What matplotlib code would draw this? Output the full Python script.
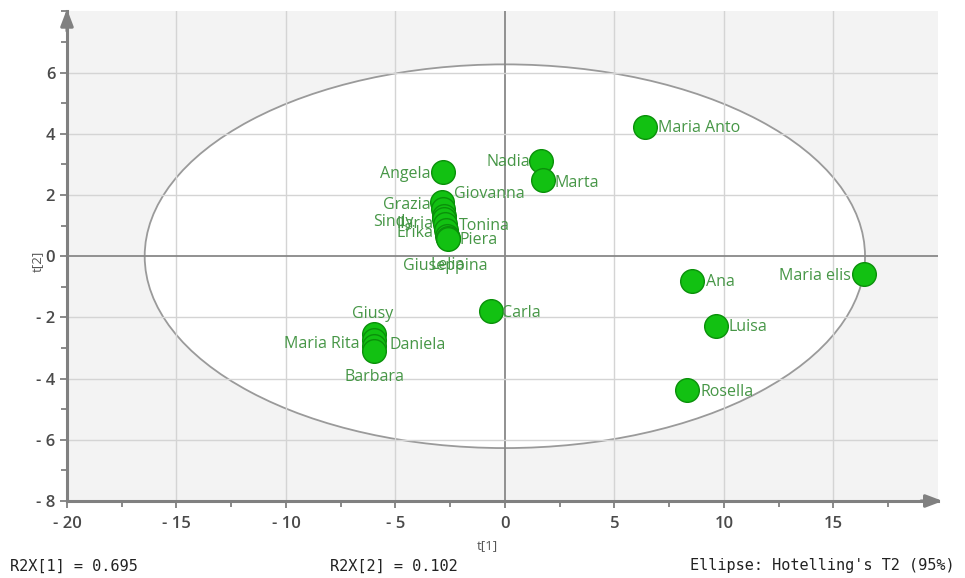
import matplotlib
matplotlib.use("Agg")
import matplotlib.pyplot as plt
from matplotlib.patches import Ellipse
from matplotlib.ticker import MultipleLocator, FuncFormatter

# Score values (t[1], t[2]) for each observation
names = ["Maria Anto", "Nadia", "Marta", "Angela",
         "Grazia", "Giovanna", "Sindy", "Ilaria", "Tonina", "Erika", "Piera", "Lelia", "Giuseppina",
         "Carla", "Giusy", "Maria Rita", "Daniela", "Barbara",
         "Ana", "Maria elis", "Luisa", "Rosella"]
t1 = [6.39, 1.64, 1.74, -2.83,
      -2.85, -2.82, -2.80, -2.77, -2.74, -2.70, -2.62, -2.60, -2.58,
      -0.64, -5.98, -5.98, -5.97, -5.96,
      8.54, 16.39, 9.63, 8.31]
t2 = [4.22, 3.10, 2.48, 2.75,
      1.76, 1.55, 1.32, 1.22, 1.05, 0.85, 0.65, 0.60, 0.56,
      -1.80, -2.55, -2.75, -2.94, -3.10,
      -0.82, -0.59, -2.29, -4.38]

r2x = [0.695, 0.102]
ellipse_axes = (16.45, 6.27)   # Hotelling's T2 (95%) semi-axes

# label placement: (horizontal alignment, dx, dy) in pixels from the marker centre
label_pos = {
    "Maria Anto": ("left", 13, -1), "Nadia": ("right", -11, -1), "Marta": ("left", 12, -3),
    "Angela": ("right", -12, -2), "Grazia": ("right", -12, -3), "Giovanna": ("left", 11, 15),
    "Sindy": ("right", -30, -6), "Ilaria": ("right", -11, -5), "Tonina": ("left", 14, -2),
    "Erika": ("right", -12, -3), "Piera": ("left", 12, -4), "Lelia": ("center", 0, -27),
    "Giuseppina": ("center", -3, -27), "Carla": ("left", 11, -2), "Giusy": ("center", -1, 20),
    "Maria Rita": ("right", -14, -4), "Daniela": ("left", 15, 1), "Barbara": ("center", 0, -26),
    "Ana": ("left", 14, -1), "Maria elis": ("right", -13, -2), "Luisa": ("left", 13, -1),
    "Rosella": ("left", 14, -2),
}

DPI = 100
fig = plt.figure(figsize=(9.65, 5.78), dpi=DPI)
ax = fig.add_axes([0.0694, 0.1332, 0.903, 0.847])
ax.set_xlim(-20, 19.8)
ax.set_ylim(-8, 8)
ax.set_facecolor("#f3f3f3")

# confidence ellipse
ell = Ellipse((0, 0), 2 * ellipse_axes[0], 2 * ellipse_axes[1], facecolor="white",
              edgecolor="#9a9a9a", lw=1.3, zorder=0.5)
ax.add_patch(ell)

# grid
for gx in range(-15, 20, 5):
    ax.axvline(gx, color="#888888" if gx == 0 else "#d4d4d4", lw=1.3 if gx == 0 else 1.0, zorder=0.8)
for gy in range(-6, 8, 2):
    ax.axhline(gy, color="#888888" if gy == 0 else "#d4d4d4", lw=1.3 if gy == 0 else 1.0, zorder=0.8)

# points
ax.scatter(t1, t2, s=290, c="#12c112", edgecolors="#0a900a", linewidths=1.0, zorder=3)

px2pt = 72.0 / DPI
for n, x, y in zip(names, t1, t2):
    ha, dx, dy = label_pos[n]
    ax.annotate(n, (x, y), xytext=(dx * px2pt, dy * px2pt), textcoords="offset points",
                ha=ha, va="center", fontsize=11.5, color="#469646", family="Open Sans",
                zorder=4)

# axes styling
for s in ("top", "right"):
    ax.spines[s].set_visible(False)
for s in ("left", "bottom"):
    ax.spines[s].set_color("#808080")
    ax.spines[s].set_linewidth(2.2)

ax.xaxis.set_major_locator(MultipleLocator(5))
ax.xaxis.set_minor_locator(MultipleLocator(2.5))
ax.yaxis.set_major_locator(MultipleLocator(2))
ax.yaxis.set_minor_locator(MultipleLocator(1))


def fmt(v, pos):
    v = int(round(v))
    return f"- {abs(v)}" if v < 0 else f"{v}"


ax.xaxis.set_major_formatter(FuncFormatter(fmt))
ax.yaxis.set_major_formatter(FuncFormatter(fmt))
ax.set_xticks([t for t in range(-20, 20, 5)])
ax.set_yticks([t for t in range(-8, 8, 2)])
ax.tick_params(which="both", color="#808080", width=1.3, labelsize=12, labelcolor="#4a4a4a")
ax.tick_params(which="major", length=5)
ax.tick_params(which="minor", length=4)
ax.tick_params(axis="x", pad=6)
for lab in ax.get_xticklabels() + ax.get_yticklabels():
    lab.set_family("Open Sans")
    lab.set_fontweight("semibold")

ax.set_xlabel("t[1]", fontsize=9.5, color="#555555", family="Open Sans")
ax.set_ylabel("t[2]", fontsize=9.5, color="#555555", family="Open Sans")
ax.xaxis.set_label_coords(0.482, -0.078)
ax.yaxis.set_label_coords(-0.027, 0.49)

# arrow heads on the axes
arrow = dict(arrowstyle="-|>,head_length=1.0,head_width=0.38", color="#808080", lw=2.2,
             shrinkA=0, shrinkB=0)
ax.annotate("", xy=(0, 1.005), xytext=(0, 0.96), xycoords="axes fraction",
            arrowprops=arrow, annotation_clip=False)
ax.annotate("", xy=(1.005, 0), xytext=(0.98, 0), xycoords="axes fraction",
            arrowprops=arrow, annotation_clip=False)

# footer
mono = dict(fontsize=11, family="DejaVu Sans Mono", color="#222222", va="center")
fig.text(10 / 965, 0.021, f"R2X[1] = {r2x[0]:.3f}", ha="left", **mono)
fig.text(330 / 965, 0.021, f"R2X[2] = {r2x[1]:.3f}", ha="left", **mono)
fig.text(955 / 965, 0.021, "Ellipse: Hotelling's T2 (95%)", ha="right", **mono)

fig.savefig("out.png", dpi=DPI)
